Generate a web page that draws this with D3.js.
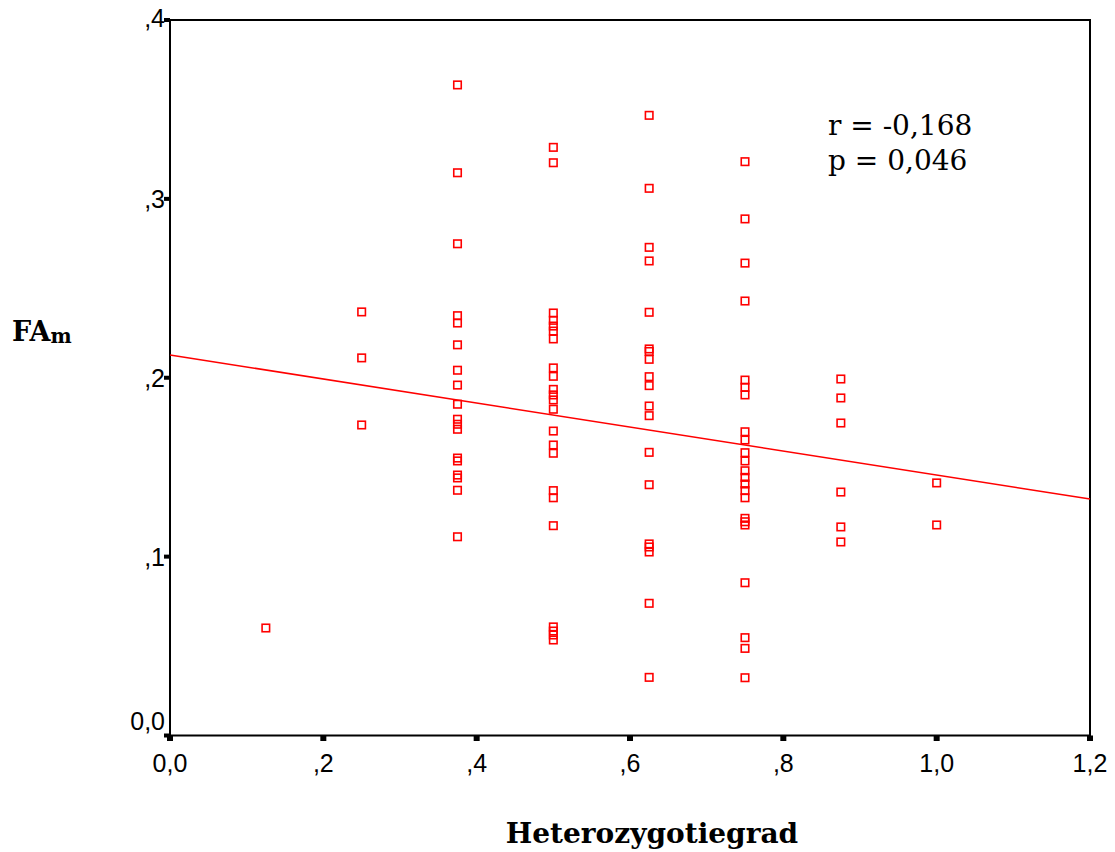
<!DOCTYPE html>
<html>
<head>
<meta charset="utf-8">
<script src="https://cdn.jsdelivr.net/npm/d3@7"></script>
<style>
  html, body { margin: 0; padding: 0; background: #fff; }
  svg { display: block; }
</style>
</head>
<body>
<svg id="chart" width="1115" height="852"></svg>
<script>
// ---- data ----
const xTicks = [0, 0.2, 0.4, 0.6, 0.8, 1.0, 1.2];
const xTickLabels = ["0,0", ",2", ",4", ",6", ",8", "1,0", "1,2"];
const yTicks = [0, 0.1, 0.2, 0.3, 0.4];
const yTickLabels = ["0,0", ",1", ",2", ",3", ",4"];

const hetLevels = [0.125, 0.25, 0.375, 0.5, 0.625, 0.75, 0.875, 1.0];
const fam_0125 = [0.0601];
const fam_0250 = [0.2368, 0.2111, 0.1736];
const fam_0375 = [0.3637, 0.3146, 0.2749, 0.2347, 0.2306, 0.2184, 0.2042, 0.1959, 0.1852,
                  0.1768, 0.1740, 0.1712, 0.1551, 0.1535, 0.1456, 0.1440, 0.1371, 0.1111];
const fam_0500 = [0.3288, 0.3202, 0.2362, 0.2321, 0.2289, 0.2261, 0.2217, 0.2055, 0.2008,
                  0.1935, 0.1904, 0.1876, 0.1824, 0.1702, 0.1624, 0.1578, 0.1369, 0.1329,
                  0.1173, 0.0607, 0.0584, 0.0562, 0.0534];
const fam_0625 = [0.3467, 0.3059, 0.2729, 0.2653, 0.2366, 0.2161, 0.2147, 0.2103, 0.2006,
                  0.1956, 0.1842, 0.1788, 0.1583, 0.1402, 0.1071, 0.1054, 0.1026, 0.0739, 0.0325];
const fam_0750 = [0.3208, 0.2888, 0.2641, 0.2429, 0.1987, 0.1947, 0.1904, 0.1698, 0.1652,
                  0.1581, 0.1535, 0.1480, 0.1443, 0.1406, 0.1369, 0.1329, 0.1214, 0.1195,
                  0.1177, 0.0854, 0.0547, 0.0487, 0.0323];
const fam_0875 = [0.1993, 0.1887, 0.1747, 0.1361, 0.1166, 0.1082];
const fam_1000 = [0.1412, 0.1177];
const famByLevel = [fam_0125, fam_0250, fam_0375, fam_0500, fam_0625, fam_0750, fam_0875, fam_1000];

const fitIntercept = 0.2127;
const fitSlope = -0.0671;
const statLines = ["r = -0,168", "p = 0,046"];
const xTitle = "Heterozygotiegrad";

// ---- layout ----
const svg = d3.select("#chart");
const plot = { left: 170, right: 1090, top: 20, bottom: 735.5 };
const x = d3.scaleLinear().domain([0, 1.2]).range([plot.left, plot.right]);
const y = d3.scaleLinear().domain([0, 0.4]).range([plot.bottom, plot.top]);

const points = [];
hetLevels.forEach((h, i) => famByLevel[i].forEach(v => points.push({ x: h, y: v })));

// frame
svg.append("rect")
  .attr("x", plot.left).attr("y", plot.top)
  .attr("width", plot.right - plot.left).attr("height", plot.bottom - plot.top)
  .attr("fill", "none").attr("stroke", "#000").attr("stroke-width", 2);

// y ticks (small black squares left of axis)
svg.selectAll(".ytick").data(yTicks).enter().append("rect")
  .attr("x", plot.left - 6).attr("y", d => y(d) - 2)
  .attr("width", 6).attr("height", 4).attr("fill", "#000");
// x ticks (below axis)
svg.selectAll(".xtick").data(xTicks).enter().append("rect")
  .attr("x", d => x(d) - 3).attr("y", plot.bottom)
  .attr("width", 6).attr("height", 5.5).attr("fill", "#000");

const labelFont = "'Liberation Sans', Arial, sans-serif";
svg.selectAll(".ylab").data(yTicks).enter().append("text")
  .attr("x", 165)
  .attr("y", (d, i) => y(d) + (d === 0 ? -6 : (d === 0.4 ? 7 : 9)))
  .attr("text-anchor", "end")
  .attr("font-family", labelFont).attr("font-size", 25).attr("fill", "#000")
  .text((d, i) => yTickLabels[i]);

svg.selectAll(".xlab").data(xTicks).enter().append("text")
  .attr("x", d => x(d)).attr("y", 772)
  .attr("text-anchor", "middle")
  .attr("font-family", labelFont).attr("font-size", 25).attr("fill", "#000")
  .text((d, i) => xTickLabels[i]);

// regression line
svg.append("line")
  .attr("x1", x(0)).attr("y1", y(fitIntercept))
  .attr("x2", x(1.2)).attr("y2", y(fitIntercept + fitSlope * 1.2))
  .attr("stroke", "#ff0000").attr("stroke-width", 1.6);

// points
const s = 7.5;
svg.selectAll(".pt").data(points).enter().append("rect")
  .attr("x", d => x(d.x) - s / 2).attr("y", d => y(d.y) - s / 2)
  .attr("width", s).attr("height", s)
  .attr("fill", "none").attr("stroke", "#ff0000").attr("stroke-width", 1.6);

// stats text
const serif = "'DejaVu Serif', serif";
svg.selectAll(".stat").data(statLines).enter().append("text")
  .attr("x", 828).attr("y", (d, i) => 135 + i * 35)
  .attr("font-family", serif).attr("font-size", 28).attr("fill", "#000")
  .text(d => d);

// axis titles
svg.append("text")
  .attr("x", 652).attr("y", 843)
  .attr("text-anchor", "middle")
  .attr("font-family", serif).attr("font-weight", "bold").attr("font-size", 28)
  .attr("fill", "#000").text(xTitle);

const yt = svg.append("text")
  .attr("x", 12).attr("y", 341)
  .attr("font-family", serif).attr("font-weight", "bold").attr("font-size", 27).attr("fill", "#000");
yt.append("tspan").text("FA");
yt.append("tspan").attr("font-size", 20).attr("dy", 2).text("m");
</script>
</body>
</html>
